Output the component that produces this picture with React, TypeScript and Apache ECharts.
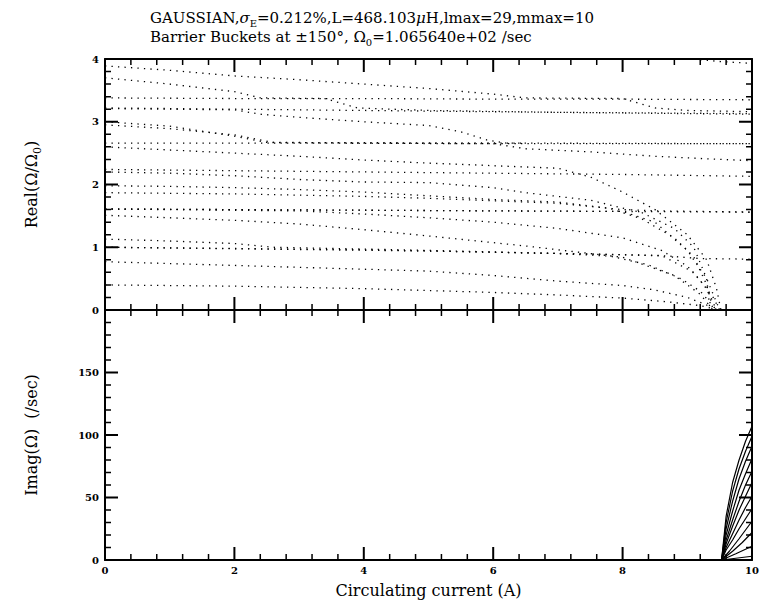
import React, { useEffect, useRef } from 'react';
import * as echarts from 'echarts';

// ---- Real(Ω/Ω0) curves (current in A, value) ----
const topT = [[9.1, 4.0], [9.5, 3.96], [10, 3.93]];
const c1 = [[0, 3.89], [1, 3.82], [2, 3.73], [3, 3.67], [4, 3.6], [5, 3.53], [6, 3.44], [6.5, 3.38], [8, 3.37], [8.5, 3.22], [9, 3.18], [10, 3.16]];
const c2 = [[0, 3.7], [1, 3.6], [2, 3.48], [2.4, 3.38], [3.4, 3.37], [3.9, 3.22], [5, 3.18], [7, 3.15], [10, 3.13]];
const f1 = [[0, 3.38], [2, 3.37], [4, 3.37], [6, 3.36], [8, 3.36], [10, 3.35]];
const f2 = [[0, 3.22], [2, 3.2], [4, 3.18], [6, 3.16], [8, 3.14], [10, 3.12]];
const c3 = [[0, 3.21], [1, 3.2], [2, 3.19], [2.4, 3.12], [3, 3.07], [4, 3.0], [5, 2.94], [5.5, 2.84], [5.9, 2.71], [6.2, 2.66], [10, 2.65]];
const c4 = [[0, 3.0], [1, 2.93], [2, 2.77], [2.5, 2.67], [4, 2.66], [6, 2.65], [6.5, 2.57], [7.5, 2.52], [8.5, 2.45], [9.5, 2.4], [10, 2.38]];
const c5 = [[0, 2.95], [1, 2.89], [2, 2.79], [2.6, 2.67], [6.5, 2.66]];
const f3 = [[0, 2.66], [3, 2.66], [6, 2.65], [10, 2.65]];
const c6 = [[0, 2.6], [1, 2.55], [2, 2.5], [3, 2.45], [4, 2.39], [5, 2.34], [6, 2.3], [7, 2.26], [7.5, 2.12], [8, 1.88], [8.5, 1.6], [9, 1.2], [9.3, 0.8], [9.45, 0.35], [9.52, 0]];
const f4 = [[0, 2.24], [2, 2.22], [4, 2.2], [6, 2.18], [8, 2.16], [10, 2.13]];
const c7 = [[0, 2.2], [1, 2.18], [2, 2.14], [3, 2.08], [4, 2.04], [5, 2.03], [6, 1.95], [6.5, 1.87], [7.5, 1.75], [8.3, 1.55], [8.8, 1.3], [9.1, 1.0], [9.3, 0.5], [9.35, 0]];
const c8 = [[0, 1.98], [1, 1.97], [2, 1.95], [3, 1.92], [4, 1.88], [5, 1.82], [6, 1.76], [7, 1.72], [7.8, 1.62], [8.3, 1.45], [8.8, 1.15], [9.1, 0.85], [9.3, 0.4], [9.4, 0]];
const c9 = [[0, 1.87], [1, 1.86], [2, 1.85], [3, 1.83], [4, 1.81], [5, 1.78], [6, 1.74], [7, 1.7], [8, 1.6], [8.5, 1.58], [10, 1.56]];
const f5 = [[0, 1.61], [2, 1.6], [4, 1.59], [6, 1.58], [8, 1.57], [10, 1.56]];
const c10 = [[0, 1.51], [1, 1.47], [2, 1.43], [3, 1.37], [4, 1.28], [5, 1.18], [6.5, 1.02], [8, 0.84], [8.8, 0.55], [9.2, 0.25], [9.4, 0]];
const c11 = [[0, 1.61], [3, 1.58], [4, 1.53], [5, 1.47], [6, 1.4], [7, 1.3], [8, 1.15], [8.6, 0.95], [9, 0.7], [9.3, 0.35], [9.45, 0]];
const c15 = [[0, 1.61], [4, 1.59], [8, 1.57], [8.5, 1.4], [9, 0.95], [9.3, 0.5], [9.5, 0]];
const f6 = [[0, 1.0], [2, 0.98], [4, 0.96], [5, 0.94], [6, 0.92], [7, 0.9], [8, 0.88], [8.7, 0.86], [9.2, 0.82], [10, 0.81]];
const c12 = [[0, 1.13], [1, 1.1], [2, 1.06], [2.6, 1.0], [5, 0.95], [7, 0.9], [7.8, 0.86], [8.4, 0.72], [8.9, 0.5], [9.2, 0.3], [9.45, 0]];
const c16 = [[0, 1.0], [5, 0.94], [8.6, 0.87], [9.1, 0.6], [9.4, 0.2], [9.5, 0]];
const c13 = [[0, 0.77], [1, 0.74], [2, 0.71], [3, 0.68], [4, 0.65], [5, 0.62], [6, 0.55], [7, 0.46], [8, 0.39], [8.5, 0.32], [9, 0.2], [9.3, 0.08], [9.35, 0]];
const c14 = [[0, 0.4], [1, 0.39], [2, 0.38], [3, 0.36], [4, 0.34], [5, 0.31], [6, 0.28], [7, 0.24], [8, 0.19], [8.7, 0.13], [9.2, 0.07], [9.5, 0]];

const realCurves = [topT, c1, c2, f1, f2, c3, c4, c5, f3, c6, f4, c7, c8, c9, f5, c10, c11, c15, f6, c12, c16, c13, c14];

// ---- Imag(Ω) curves (/sec) ----
const im1 = [[9.53, 0], [9.6, 35], [9.7, 62], [9.8, 80], [9.9, 95], [10, 107]];
const im2 = [[9.53, 0], [9.6, 30], [9.7, 55], [9.8, 73], [9.9, 87], [10, 99]];
const im3 = [[9.53, 0], [9.6, 25], [9.7, 47], [9.8, 65], [9.9, 79], [10, 91]];
const im4 = [[9.53, 0], [9.6, 20], [9.7, 39], [9.8, 56], [9.9, 69], [10, 81]];
const im5 = [[9.53, 0], [9.6, 16], [9.7, 32], [9.8, 47], [9.9, 60], [10, 71]];
const im6 = [[9.53, 0], [9.6, 13], [9.7, 27], [9.8, 40], [9.9, 51], [10, 62]];
const im7 = [[9.53, 0], [9.6, 10], [9.7, 21], [9.8, 32], [9.9, 42], [10, 51]];
const im8 = [[9.53, 0], [9.6, 8], [9.7, 16], [9.8, 25], [9.9, 33], [10, 41]];
const im9 = [[9.53, 0], [9.65, 7], [9.8, 17], [10, 31]];
const im10 = [[9.53, 0], [9.7, 7], [9.85, 14], [10, 22]];
const im11 = [[9.53, 0], [9.75, 5], [10, 11]];
const im12 = [[9.53, 0], [10, 3]];
const imagCurves = [im1, im2, im3, im4, im5, im6, im7, im8, im9, im10, im11, im12];

// ---- tick labels and tick positions ----
const xTickLabels = ['0', '2', '4', '6', '8', '10'];
const realTickLabels = ['0', '1', '2', '3', '4'];
const imagTickLabels = ['0', '50', '100', '150'];
const xMajorTicks = [2, 4, 6, 8];
const xMinorTicks = [0.4, 0.8, 1.2, 1.6, 2.4, 2.8, 3.2, 3.6, 4.4, 4.8, 5.2, 5.6, 6.4, 6.8, 7.2, 7.6, 8.4, 8.8, 9.2, 9.6];
const realMajorTicks = [1, 2, 3];
const realMinorTicks = [0.2, 0.4, 0.6, 0.8, 1.2, 1.4, 1.6, 1.8, 2.2, 2.4, 2.6, 2.8, 3.2, 3.4, 3.6, 3.8];
const imagMajorTicks = [50, 100, 150];
const imagMinorTicks = [10, 20, 30, 40, 60, 70, 80, 90, 110, 120, 130, 140, 160, 170, 180, 190];

const FONT = 'DejaVu Serif';
const PLOT_W = 647;
const PLOT_H = 250;
const MAJOR_LEN = 13;
const MINOR_LEN = 6;

export default function App() {
  const ref = useRef<HTMLDivElement>(null);
  useEffect(() => {
    document.body.style.margin = '0';
    if (!ref.current) return;
    const chart = echarts.init(ref.current, null, { renderer: 'svg' });

    const labelStyle = { fontFamily: FONT, fontSize: 10, fontWeight: 'bold' as const, color: '#000' };
    const frameAxis = (extra: any) => ({
      type: 'value',
      axisLine: { show: true, onZero: false, lineStyle: { color: '#000', width: 2 } },
      axisTick: { show: false },
      minorTick: { show: false },
      splitLine: { show: false },
      axisLabel: { show: false },
      ...extra,
    });
    const nameRich = {
      t: { fontFamily: FONT, fontSize: 16, fontWeight: 'normal', color: '#000', lineHeight: 24, verticalAlign: 'middle' },
      s: { fontFamily: FONT, fontSize: 11, fontWeight: 'normal', color: '#000', lineHeight: 11, verticalAlign: 'bottom' },
    };

    const series: any[] = [];
    realCurves.forEach((d) => {
      series.push({
        type: 'line', xAxisIndex: 0, yAxisIndex: 0, data: d, showSymbol: false, silent: true,
        lineStyle: { color: '#000', width: 1.3, type: [1.3, 5.2] },
      });
    });
    imagCurves.forEach((d) => {
      series.push({
        type: 'line', xAxisIndex: 2, yAxisIndex: 2, data: d, showSymbol: false, silent: true,
        lineStyle: { color: '#000', width: 1.2 },
      });
    });

    // tick marks: one line series per tick size, segments separated by gaps
    const addTicks = (xi: number, yi: number, xLo: number, xHi: number, yLo: number, yHi: number,
      xMaj: number[], xMin: number[], yMaj: number[], yMin: number[]) => {
      const ux = (xHi - xLo) / PLOT_W;
      const uy = (yHi - yLo) / PLOT_H;
      const build = (w: number, items: any[]) => series.push({
        type: 'line', xAxisIndex: xi, yAxisIndex: yi, data: items, showSymbol: false, silent: true,
        z: 10, connectNulls: false, clip: false,
        lineStyle: { color: '#000', width: w },
      });
      const major: any[] = [];
      const minor: any[] = [];
      const pushX = (arr: any[], v: number, len: number) => {
        arr.push([v, yLo], [v, yLo + len * uy], '-', [v, yHi], [v, yHi - len * uy], '-');
      };
      const pushY = (arr: any[], v: number, len: number) => {
        arr.push([xLo, v], [xLo + len * ux, v], '-', [xHi, v], [xHi - len * ux, v], '-');
      };
      xMaj.forEach((v) => pushX(major, v, MAJOR_LEN));
      yMaj.forEach((v) => pushY(major, v, MAJOR_LEN));
      xMin.forEach((v) => pushX(minor, v, MINOR_LEN));
      yMin.forEach((v) => pushY(minor, v, MINOR_LEN));
      build(2, major);
      build(1.5, minor);
    };
    addTicks(0, 0, 0, 10, 0, 4, xMajorTicks, xMinorTicks, realMajorTicks, realMinorTicks);
    addTicks(2, 2, 0, 10, 0, 200, xMajorTicks, xMinorTicks, imagMajorTicks, imagMinorTicks);

    const titleRich = {
      a: { fontFamily: FONT, fontSize: 15, fontWeight: 'normal', color: '#000', lineHeight: 20, verticalAlign: 'middle' },
      i: { fontFamily: FONT, fontSize: 15, fontWeight: 'normal', fontStyle: 'italic', color: '#000', lineHeight: 20, verticalAlign: 'middle' },
      s: { fontFamily: FONT, fontSize: 10, fontWeight: 'normal', color: '#000', lineHeight: 10, verticalAlign: 'bottom' },
    };

    chart.setOption({
      animation: false,
      backgroundColor: '#fff',
      title: [
        {
          left: 145, top: 3,
          text: '{a|GAUSSIAN,}{i|σ}{s|E}{a|=0.212%,L=468.103}{i|μ}{a|H,lmax=29,mmax=10}',
          textStyle: { fontWeight: 'normal', rich: titleRich },
        },
        {
          left: 145, top: 22,
          text: '{a|Barrier Buckets at ±150°, Ω}{s|0}{a|=1.065640e+02 /sec}',
          textStyle: { fontWeight: 'normal', rich: titleRich },
        },
      ],
      grid: [
        { left: 105, top: 59, width: PLOT_W, height: 251 },
        { left: 105, top: 310, width: PLOT_W, height: PLOT_H },
      ],
      xAxis: [
        frameAxis({ gridIndex: 0, min: 0, max: 10, interval: 2, position: 'bottom' }),
        frameAxis({ gridIndex: 0, min: 0, max: 10, interval: 2, position: 'top' }),
        frameAxis({
          gridIndex: 1, min: 0, max: 10, interval: 2, position: 'bottom',
          axisLabel: { show: true, margin: 5, ...labelStyle, formatter: (v: number) => xTickLabels[Math.round(v / 2)] ?? '' },
          name: 'Circulating current (A)', nameLocation: 'middle', nameGap: 22,
          nameTextStyle: { fontFamily: FONT, fontSize: 16, color: '#000' },
        }),
        frameAxis({ gridIndex: 1, min: 0, max: 10, interval: 2, position: 'top' }),
      ],
      yAxis: [
        frameAxis({
          gridIndex: 0, min: 0, max: 4, interval: 1, position: 'left',
          axisLabel: { show: true, margin: 6, ...labelStyle, formatter: (v: number) => realTickLabels[Math.round(v)] ?? '' },
          name: '{t|Real(Ω/Ω}{s|0}{t|)}', nameLocation: 'middle', nameGap: 62, nameRotate: 90,
          nameTextStyle: { rich: nameRich },
        }),
        frameAxis({ gridIndex: 0, min: 0, max: 4, interval: 1, position: 'right' }),
        frameAxis({
          gridIndex: 1, min: 0, max: 200, interval: 50, position: 'left',
          axisLabel: { show: true, margin: 6, ...labelStyle, formatter: (v: number) => imagTickLabels[Math.round(v / 50)] ?? '' },
          name: '{t|Imag(Ω)  (/sec)}', nameLocation: 'middle', nameGap: 62, nameRotate: 90,
          nameTextStyle: { rich: nameRich },
        }),
        frameAxis({ gridIndex: 1, min: 0, max: 200, interval: 50, position: 'right' }),
      ],
      series,
    });
    return () => chart.dispose();
  }, []);
  return <div ref={ref} style={{ width: 762, height: 602 }} />;
}
